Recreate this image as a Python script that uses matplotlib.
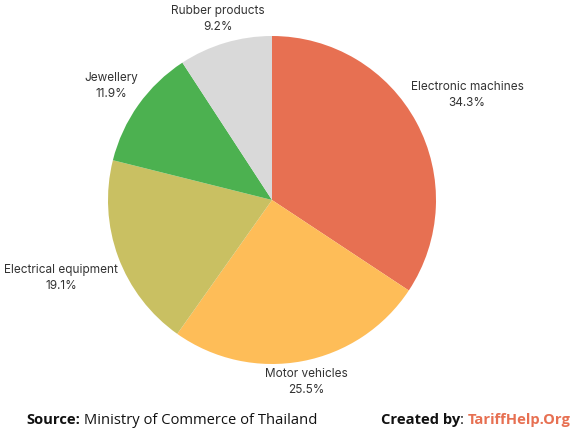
import numpy as np
import matplotlib.pyplot as plt

# data
categories = ['Electronic machines', 'Motor vehicles', 'Electrical equipment', 'Jewellery', 'Rubber products']
shares = [34.3, 25.5, 19.1, 11.9, 9.2]
colors = ['#E77052', '#FEBD58', '#C9C062', '#4CB150', '#D9D9D9']

# how far each label sits from the centre (in radii)
label_dist = [1.35, 1.13, 1.37, 1.20, 1.15]

fig = plt.figure(figsize=(5.7, 4.33), dpi=100)
ax = fig.add_axes([0, 0, 1, 1])

cx, cy, r = 272, 233, 164
wedges, _ = ax.pie(shares, colors=colors, startangle=90, counterclock=False,
                   center=(cx, cy), radius=r, frame=True,
                   wedgeprops=dict(linewidth=0))
ax.set_xlim(0, 570)
ax.set_ylim(0, 433)
ax.set_aspect('equal')
ax.axis('off')

for w, name, val, d in zip(wedges, categories, shares, label_dist):
    ang = np.deg2rad((w.theta1 + w.theta2) / 2)
    x = cx + d * r * np.cos(ang)
    y = cy + d * r * np.sin(ang)
    ax.text(x, y, f'{name}\n{val}%', ha='center', va='center',
            fontsize=8.5, color='#333333', family='Inter', linespacing=1.5)

# footer
fs = 10.6
t = ax.text(26, 13, 'Source:', fontsize=fs, fontweight='bold', family='Open Sans',
            color='#111111', va='center')
ax.annotate(' Ministry of Commerce of Thailand', xycoords=t, xy=(1, 0.5),
            va='center', fontsize=fs, family='Open Sans', color='#111111')
t2 = ax.text(381, 13, 'Created by', fontsize=fs, fontweight='bold', family='Open Sans',
             color='#111111', va='center')
t3 = ax.annotate(': ', xycoords=t2, xy=(1, 0.5), va='center', fontsize=fs,
                 family='Open Sans', color='#111111')
ax.annotate('TariffHelp.Org', xycoords=t3, xy=(1, 0.5), va='center', fontsize=fs,
            fontweight='bold', family='Open Sans', color='#E77052')

fig.savefig('out.png', dpi=100)
